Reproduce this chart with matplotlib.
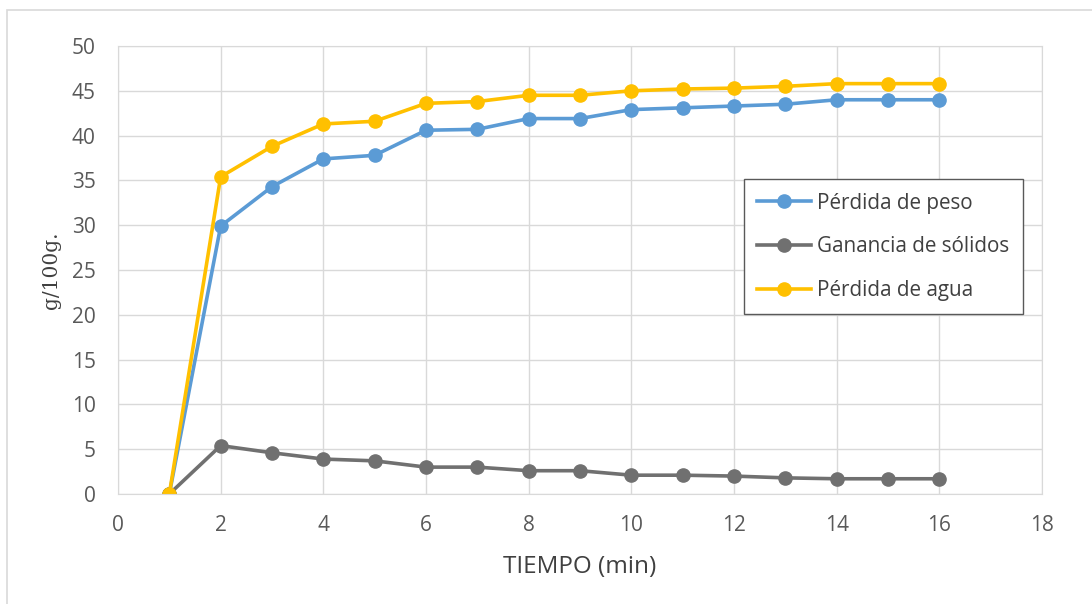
import matplotlib.pyplot as plt
from matplotlib.patches import Rectangle

plt.rcParams['font.family'] = ['Open Sans', 'DejaVu Sans']

tiempo = list(range(1, 17))
perdida_peso = [0, 29.9, 34.3, 37.4, 37.8, 40.6, 40.7, 41.9, 41.9, 42.9, 43.1, 43.3, 43.5, 44.0, 44.0, 44.0]
ganancia_solidos = [0, 5.4, 4.6, 3.9, 3.7, 3.0, 3.0, 2.6, 2.6, 2.1, 2.1, 2.0, 1.8, 1.7, 1.7, 1.7]
perdida_agua = [0, 35.4, 38.8, 41.3, 41.6, 43.6, 43.8, 44.5, 44.5, 45.0, 45.2, 45.3, 45.5, 45.8, 45.8, 45.8]

W, H = 1092, 604
fig = plt.figure(figsize=(W / 100, H / 100), dpi=100)
ax = fig.add_axes([118 / W, 1 - 494 / H, 924 / W, 448 / H])

# marco del área del gráfico
fig.patches.append(Rectangle((7 / W, -0.05), 1.1, 1 - 10 / H + 0.05, transform=fig.transFigure,
                             fill=False, edgecolor='#d9d9d9', linewidth=1.2))

estilo = dict(linewidth=2.6, marker='o', markersize=9.5)
ax.plot(tiempo, perdida_peso, color='#5b9bd5', label='Pérdida de peso', **estilo)
ax.plot(tiempo, ganancia_solidos, color='#707070', label='Ganancia de sólidos', **estilo)
ax.plot(tiempo, perdida_agua, color='#ffc000', label='Pérdida de agua', **estilo)

ax.set_xlim(0, 18)
ax.set_ylim(0, 50)
ax.set_xticks(range(0, 19, 2))
ax.set_yticks(range(0, 51, 5))
ax.grid(color='#d9d9d9', linewidth=1)
ax.set_axisbelow(True)
for s in ax.spines.values():
    s.set_color('#d9d9d9')
ax.tick_params(length=0, labelsize=15, colors='#595959')
ax.tick_params(axis='x', pad=15)
ax.tick_params(axis='y', pad=16)

ax.set_xlabel('TIEMPO (min)', fontsize=17.5, color='#404040', labelpad=14)
ax.set_ylabel('g/100g.', fontsize=14.5, color='#404040', family='DejaVu Serif', labelpad=8)

leg = ax.legend(loc='upper left', bbox_to_anchor=(0.6775, 0.703), fontsize=14.9,
                fancybox=False, edgecolor='#595959', framealpha=1,
                handlelength=2.6, labelspacing=1.1, borderpad=0.65,
                borderaxespad=0, handletextpad=0.3)
leg.get_frame().set_linewidth(1.0)
for t in leg.get_texts():
    t.set_color('#404040')

fig.savefig('out.png')
